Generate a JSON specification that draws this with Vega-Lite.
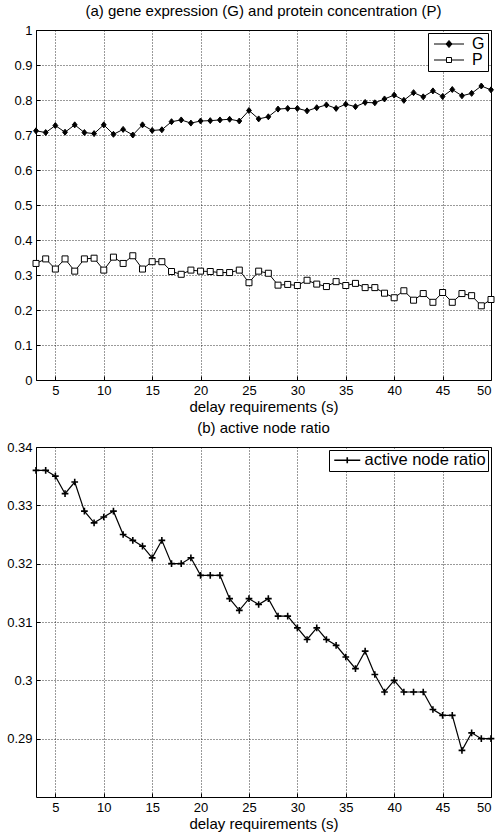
{
  "$schema": "https://vega.github.io/schema/vega-lite/v6.json",
  "background": "white",
  "padding": {"left": 6, "top": 3, "right": 4, "bottom": 0},
  "spacing": 5,
  "resolve": {
    "scale": {"shape": "independent", "fill": "independent", "color": "independent", "stroke": "independent"},
    "legend": {"shape": "independent", "fill": "independent", "color": "independent", "stroke": "independent"}
  },
  "config": {
    "font": "Liberation Sans",
    "view": {"stroke": "black", "strokeWidth": 1},
    "axis": {
      "grid": true, "gridColor": "black", "gridDash": [1, 2], "gridOpacity": 1, "gridWidth": 0.8,
      "domain": false, "ticks": true, "tickSize": -4, "tickColor": "black", "tickWidth": 1,
      "labelFontSize": 13, "labelColor": "black", "labelPadding": 8,
      "titleFontSize": 15, "titleFontWeight": "normal", "titleColor": "black", "titlePadding": 2
    },
    "title": {"fontSize": 15, "fontWeight": "normal", "color": "black", "offset": 5},
    "legend": {
      "orient": "top-right", "offset": 3, "title": null,
      "fillColor": "white", "strokeColor": "black", "padding": 3, "rowPadding": 0,
      "labelFontSize": 16, "labelColor": "black", "symbolStrokeColor": "black", "symbolStrokeWidth": 1
    }
  },
  "datasets": {
    "top": [
      {"x": 3, "series": "G", "value": 0.712}, {"x": 4, "series": "G", "value": 0.707}, {"x": 5, "series": "G", "value": 0.727},
      {"x": 6, "series": "G", "value": 0.708}, {"x": 7, "series": "G", "value": 0.729}, {"x": 8, "series": "G", "value": 0.707},
      {"x": 9, "series": "G", "value": 0.704}, {"x": 10, "series": "G", "value": 0.729}, {"x": 11, "series": "G", "value": 0.702},
      {"x": 12, "series": "G", "value": 0.716}, {"x": 13, "series": "G", "value": 0.700}, {"x": 14, "series": "G", "value": 0.729},
      {"x": 15, "series": "G", "value": 0.713}, {"x": 16, "series": "G", "value": 0.715}, {"x": 17, "series": "G", "value": 0.738},
      {"x": 18, "series": "G", "value": 0.743}, {"x": 19, "series": "G", "value": 0.734}, {"x": 20, "series": "G", "value": 0.740},
      {"x": 21, "series": "G", "value": 0.741}, {"x": 22, "series": "G", "value": 0.743}, {"x": 23, "series": "G", "value": 0.745},
      {"x": 24, "series": "G", "value": 0.740}, {"x": 25, "series": "G", "value": 0.770}, {"x": 26, "series": "G", "value": 0.746},
      {"x": 27, "series": "G", "value": 0.752}, {"x": 28, "series": "G", "value": 0.774}, {"x": 29, "series": "G", "value": 0.776},
      {"x": 30, "series": "G", "value": 0.776}, {"x": 31, "series": "G", "value": 0.769}, {"x": 32, "series": "G", "value": 0.778},
      {"x": 33, "series": "G", "value": 0.786}, {"x": 34, "series": "G", "value": 0.776}, {"x": 35, "series": "G", "value": 0.788},
      {"x": 36, "series": "G", "value": 0.781}, {"x": 37, "series": "G", "value": 0.793}, {"x": 38, "series": "G", "value": 0.792},
      {"x": 39, "series": "G", "value": 0.803}, {"x": 40, "series": "G", "value": 0.814}, {"x": 41, "series": "G", "value": 0.799},
      {"x": 42, "series": "G", "value": 0.821}, {"x": 43, "series": "G", "value": 0.809}, {"x": 44, "series": "G", "value": 0.826},
      {"x": 45, "series": "G", "value": 0.810}, {"x": 46, "series": "G", "value": 0.830}, {"x": 47, "series": "G", "value": 0.812},
      {"x": 48, "series": "G", "value": 0.819}, {"x": 49, "series": "G", "value": 0.840}, {"x": 50, "series": "G", "value": 0.829},
      {"x": 3, "series": "P", "value": 0.333}, {"x": 4, "series": "P", "value": 0.346}, {"x": 5, "series": "P", "value": 0.317},
      {"x": 6, "series": "P", "value": 0.346}, {"x": 7, "series": "P", "value": 0.311}, {"x": 8, "series": "P", "value": 0.346},
      {"x": 9, "series": "P", "value": 0.348}, {"x": 10, "series": "P", "value": 0.314}, {"x": 11, "series": "P", "value": 0.351},
      {"x": 12, "series": "P", "value": 0.333}, {"x": 13, "series": "P", "value": 0.355}, {"x": 14, "series": "P", "value": 0.317},
      {"x": 15, "series": "P", "value": 0.338}, {"x": 16, "series": "P", "value": 0.338}, {"x": 17, "series": "P", "value": 0.310},
      {"x": 18, "series": "P", "value": 0.302}, {"x": 19, "series": "P", "value": 0.314}, {"x": 20, "series": "P", "value": 0.311},
      {"x": 21, "series": "P", "value": 0.310}, {"x": 22, "series": "P", "value": 0.307}, {"x": 23, "series": "P", "value": 0.307},
      {"x": 24, "series": "P", "value": 0.314}, {"x": 25, "series": "P", "value": 0.278}, {"x": 26, "series": "P", "value": 0.311},
      {"x": 27, "series": "P", "value": 0.305}, {"x": 28, "series": "P", "value": 0.271}, {"x": 29, "series": "P", "value": 0.273},
      {"x": 30, "series": "P", "value": 0.270}, {"x": 31, "series": "P", "value": 0.285}, {"x": 32, "series": "P", "value": 0.274},
      {"x": 33, "series": "P", "value": 0.267}, {"x": 34, "series": "P", "value": 0.281}, {"x": 35, "series": "P", "value": 0.270},
      {"x": 36, "series": "P", "value": 0.276}, {"x": 37, "series": "P", "value": 0.264}, {"x": 38, "series": "P", "value": 0.264},
      {"x": 39, "series": "P", "value": 0.248}, {"x": 40, "series": "P", "value": 0.235}, {"x": 41, "series": "P", "value": 0.255},
      {"x": 42, "series": "P", "value": 0.228}, {"x": 43, "series": "P", "value": 0.247}, {"x": 44, "series": "P", "value": 0.222},
      {"x": 45, "series": "P", "value": 0.250}, {"x": 46, "series": "P", "value": 0.222}, {"x": 47, "series": "P", "value": 0.247},
      {"x": 48, "series": "P", "value": 0.241}, {"x": 49, "series": "P", "value": 0.212}, {"x": 50, "series": "P", "value": 0.230}
    ],
    "bottom": [
      {"x": 3, "ratio": 0.336, "name": "active node ratio"}, {"x": 4, "ratio": 0.336, "name": "active node ratio"},
      {"x": 5, "ratio": 0.335, "name": "active node ratio"}, {"x": 6, "ratio": 0.332, "name": "active node ratio"},
      {"x": 7, "ratio": 0.334, "name": "active node ratio"}, {"x": 8, "ratio": 0.329, "name": "active node ratio"},
      {"x": 9, "ratio": 0.327, "name": "active node ratio"}, {"x": 10, "ratio": 0.328, "name": "active node ratio"},
      {"x": 11, "ratio": 0.329, "name": "active node ratio"}, {"x": 12, "ratio": 0.325, "name": "active node ratio"},
      {"x": 13, "ratio": 0.324, "name": "active node ratio"}, {"x": 14, "ratio": 0.323, "name": "active node ratio"},
      {"x": 15, "ratio": 0.321, "name": "active node ratio"}, {"x": 16, "ratio": 0.324, "name": "active node ratio"},
      {"x": 17, "ratio": 0.320, "name": "active node ratio"}, {"x": 18, "ratio": 0.320, "name": "active node ratio"},
      {"x": 19, "ratio": 0.321, "name": "active node ratio"}, {"x": 20, "ratio": 0.318, "name": "active node ratio"},
      {"x": 21, "ratio": 0.318, "name": "active node ratio"}, {"x": 22, "ratio": 0.318, "name": "active node ratio"},
      {"x": 23, "ratio": 0.314, "name": "active node ratio"}, {"x": 24, "ratio": 0.312, "name": "active node ratio"},
      {"x": 25, "ratio": 0.314, "name": "active node ratio"}, {"x": 26, "ratio": 0.313, "name": "active node ratio"},
      {"x": 27, "ratio": 0.314, "name": "active node ratio"}, {"x": 28, "ratio": 0.311, "name": "active node ratio"},
      {"x": 29, "ratio": 0.311, "name": "active node ratio"}, {"x": 30, "ratio": 0.309, "name": "active node ratio"},
      {"x": 31, "ratio": 0.307, "name": "active node ratio"}, {"x": 32, "ratio": 0.309, "name": "active node ratio"},
      {"x": 33, "ratio": 0.307, "name": "active node ratio"}, {"x": 34, "ratio": 0.306, "name": "active node ratio"},
      {"x": 35, "ratio": 0.304, "name": "active node ratio"}, {"x": 36, "ratio": 0.302, "name": "active node ratio"},
      {"x": 37, "ratio": 0.305, "name": "active node ratio"}, {"x": 38, "ratio": 0.301, "name": "active node ratio"},
      {"x": 39, "ratio": 0.298, "name": "active node ratio"}, {"x": 40, "ratio": 0.300, "name": "active node ratio"},
      {"x": 41, "ratio": 0.298, "name": "active node ratio"}, {"x": 42, "ratio": 0.298, "name": "active node ratio"},
      {"x": 43, "ratio": 0.298, "name": "active node ratio"}, {"x": 44, "ratio": 0.295, "name": "active node ratio"},
      {"x": 45, "ratio": 0.294, "name": "active node ratio"}, {"x": 46, "ratio": 0.294, "name": "active node ratio"},
      {"x": 47, "ratio": 0.288, "name": "active node ratio"}, {"x": 48, "ratio": 0.291, "name": "active node ratio"},
      {"x": 49, "ratio": 0.290, "name": "active node ratio"}, {"x": 50, "ratio": 0.290, "name": "active node ratio"}
    ]
  },
  "vconcat": [
    {
      "width": 455,
      "height": 350,
      "title": "(a) gene expression (G) and protein concentration (P)",
      "data": {"name": "top"},
      "encoding": {
        "x": {"field": "x", "type": "quantitative", "title": "delay requirements (s)",
              "scale": {"domain": [3, 50], "nice": false, "zero": false},
              "axis": {"values": [5, 10, 15, 20, 25, 30, 35, 40, 45, 50]}},
        "y": {"field": "value", "type": "quantitative", "title": null,
              "scale": {"domain": [0, 1], "nice": false},
              "axis": {"values": [0, 0.1, 0.2, 0.3, 0.4, 0.5, 0.6, 0.7, 0.8, 0.9, 1], "format": ".1~f"}}
      },
      "resolve": {
        "scale": {"shape": "independent", "fill": "independent", "stroke": "independent"},
        "legend": {"shape": "independent", "fill": "independent", "stroke": "independent"}
      },
      "layer": [
        {"mark": {"type": "line", "color": "black", "strokeWidth": 1},
         "encoding": {"detail": {"field": "series"}}},
        {"mark": {"type": "point", "filled": true, "stroke": "black", "strokeWidth": 1, "opacity": 1},
         "encoding": {
           "shape": {"field": "series", "type": "nominal",
                     "scale": {"domain": ["G", "P"], "range": ["M0,-1L0.8,0L0,1L-0.8,0Z", "square"]},
                     "legend": null},
           "fill": {"field": "series", "type": "nominal",
                    "scale": {"domain": ["G", "P"], "range": ["black", "white"]},
                    "legend": null},
           "size": {"value": 36}
         }},
        {"transform": [{"filter": {"field": "x", "gt": 1000}}],
         "mark": {"type": "point", "filled": false, "strokeWidth": 1, "opacity": 1},
         "encoding": {
           "shape": {"field": "series", "type": "nominal",
                     "scale": {"domain": ["G", "P"], "range": ["M-1,0H5M2,-0.7L2.6,0L2,0.7L1.4,0Z", "M-1,0H1.5M2.5,0H5M1.5,-0.5H2.5V0.5H1.5Z"]},
                     "legend": {"symbolSize": 100, "labelOffset": 25, "symbolStrokeWidth": 1}},
           "fill": {"field": "series", "type": "nominal",
                    "scale": {"domain": ["G", "P"], "range": ["black", "white"]},
                    "legend": {"symbolSize": 100, "labelOffset": 25, "symbolStrokeWidth": 1}},
           "stroke": {"field": "series", "type": "nominal",
                    "scale": {"domain": ["G", "P"], "range": ["black", "black"]},
                    "legend": {"symbolSize": 100, "labelOffset": 25, "symbolStrokeWidth": 1}}
         }}
      ]
    },
    {
      "width": 455,
      "height": 350,
      "title": "(b) active node ratio",
      "data": {"name": "bottom"},
      "encoding": {
        "x": {"field": "x", "type": "quantitative", "title": "delay requirements (s)",
              "scale": {"domain": [3, 50], "nice": false, "zero": false},
              "axis": {"values": [5, 10, 15, 20, 25, 30, 35, 40, 45, 50]}},
        "y": {"field": "ratio", "type": "quantitative", "title": null,
              "scale": {"domain": [0.28, 0.34], "nice": false, "zero": false},
              "axis": {"values": [0.29, 0.3, 0.31, 0.32, 0.33, 0.34], "format": ".2~f"}}
      },
      "layer": [
        {"mark": {"type": "line", "strokeWidth": 1.2},
         "encoding": {
           "color": {"field": "name", "type": "nominal", "scale": {"range": ["black"]},
                     "legend": {"symbolType": "M-1,0H4.2M1.6,-0.6V0.6", "symbolSize": 100, "symbolStrokeWidth": 1.6,
                                "symbolStrokeColor": "black", "labelOffset": 17, "labelFontSize": 16.5, "padding": 2}}
         }},
        {"mark": {"type": "point", "filled": false, "stroke": "black", "strokeWidth": 1.6, "opacity": 1},
         "encoding": {
           "shape": {"field": "name", "type": "nominal",
                     "scale": {"range": ["M-1,0H1M0,-1V1"]},
                     "legend": null},
           "size": {"value": 45}
         }}
      ]
    }
  ]
}
